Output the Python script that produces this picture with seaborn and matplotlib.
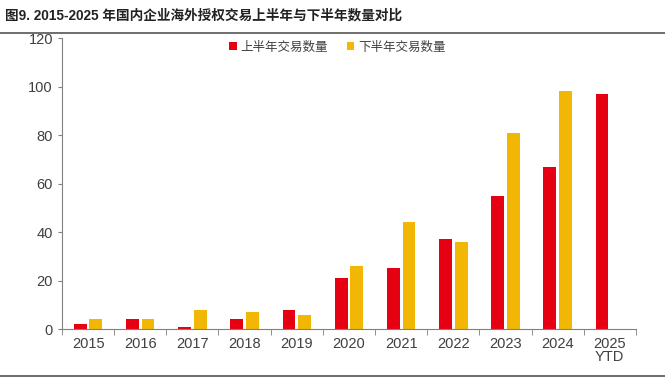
import numpy as np
import pandas as pd
import seaborn as sns
import matplotlib
matplotlib.use('Agg')
import matplotlib.pyplot as plt

# data
years = ['2015', '2016', '2017', '2018', '2019', '2020', '2021', '2022', '2023', '2024', '2025\nYTD']
first_half = [2, 4, 1, 4, 8, 21, 25, 37, 55, 67, 97]
second_half = [4, 4, 8, 7, 6, 26, 44, 36, 81, 98, np.nan]
series_names = ['上半年交易数量', '下半年交易数量']
colors = ['#E50012', '#F2B705']
title = '图9. 2015-2025 年国内企业海外授权交易上半年与下半年数量对比'

sns.set_style('ticks')
plt.rcParams['font.family'] = ['Liberation Sans', 'Noto Sans CJK SC', 'DejaVu Sans']

df = pd.DataFrame({
    'year': years * 2,
    'count': first_half + second_half,
    'series': [series_names[0]] * len(years) + [series_names[1]] * len(years),
})

fig = plt.figure(figsize=(6.65, 3.8), dpi=100)
ax = fig.add_axes([0.0932, 0.134, 0.863, 0.766])

sns.barplot(data=df, x='year', y='count', hue='series', hue_order=series_names,
            order=years, palette=colors, width=0.6, gap=0.18, saturation=1,
            edgecolor='none', ax=ax)

ax.set_ylim(0, 120)
ax.set_yticks(range(0, 121, 20))
ax.set_xlim(-0.5, len(years) - 0.5)
ax.set_xlabel('')
ax.set_ylabel('')

# ticks between categories on x
ax.tick_params(axis='x', which='major', length=0, pad=6, labelsize=10.5, colors='#404040')
ax.set_xticks(np.arange(-0.5, len(years), 1), minor=True)
ax.tick_params(axis='x', which='minor', length=4, color='#808080', direction='out')
ax.tick_params(axis='y', length=3, color='#808080', labelsize=10.5, colors='#404040')
for lab in ax.get_xticklabels():
    lab.set_linespacing(0.9)

for side in ['top', 'right']:
    ax.spines[side].set_visible(False)
for side in ['left', 'bottom']:
    ax.spines[side].set_color('#808080')
    ax.spines[side].set_linewidth(0.8)

ax.legend(loc='upper center', bbox_to_anchor=(0.48, 1.03), ncol=2, frameon=False,
          prop={'family': ['Noto Sans CJK SC', 'DejaVu Sans'], 'size': 9},
          handlelength=0.6, handleheight=0.6, handletextpad=0.3,
          columnspacing=1.5, labelcolor='#404040')

# title and rules
fig.text(0.008, 0.958, title, fontsize=9.8, fontweight='bold', color='#222222', va='center')
fig.add_artist(plt.Line2D([0, 1], [0.913, 0.913], color='#555555', lw=1.2))
fig.add_artist(plt.Line2D([0, 1], [0.01, 0.01], color='#555555', lw=1.2))

plt.savefig('out.png', dpi=100)
plt.close()
